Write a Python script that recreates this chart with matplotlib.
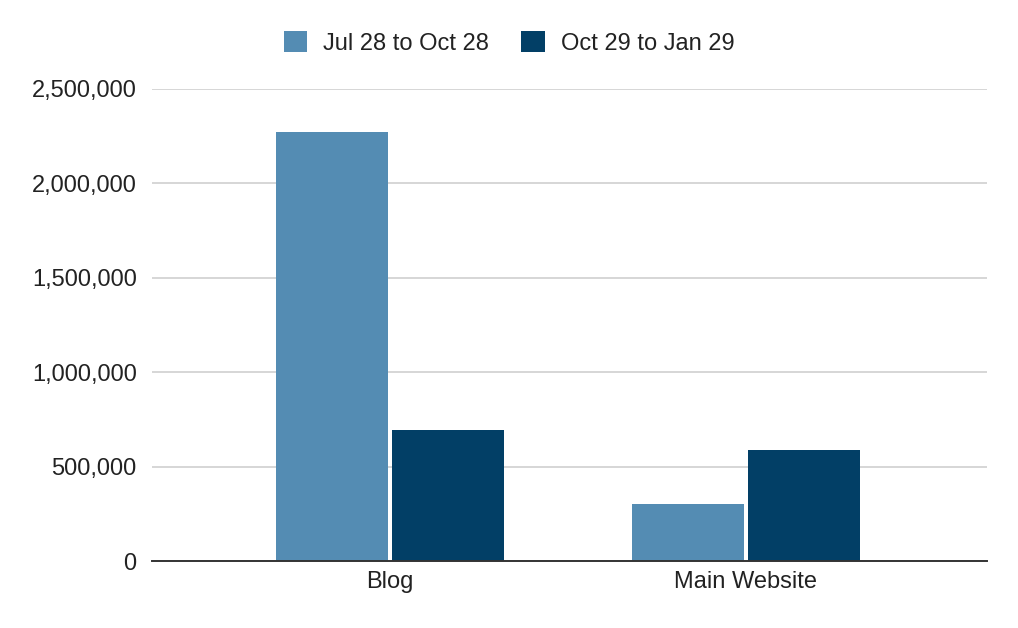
import matplotlib

matplotlib.use("Agg")
import matplotlib.pyplot as plt
import numpy as np
from matplotlib.ticker import FuncFormatter

categories = ["Blog", "Main Website"]
series_names = ["Jul 28 to Oct 28", "Oct 29 to Jan 29"]
jul_oct = [2272000, 302000]
oct_jan = [692000, 586000]
colors = ["#548cb3", "#023f66"]

plt.rcParams["font.family"] = ["Liberation Sans", "DejaVu Sans"]

fig = plt.figure(figsize=(10.18, 6.28), dpi=100)
ax = fig.add_axes([152 / 1018, 1 - 561 / 628, (987 - 152) / 1018, (561 - 89) / 628])

x = np.arange(len(categories))
width = 0.315
off = 0.163
ax.bar(x - off, jul_oct, width, color=colors[0], label=series_names[0], zorder=3)
ax.bar(x + off, oct_jan, width, color=colors[1], label=series_names[1], zorder=3)

ax.set_xlim(-0.668, 1.677)
ax.set_ylim(0, 2500000)
ax.set_yticks(np.arange(0, 2500001, 500000))
ax.yaxis.set_major_formatter(FuncFormatter(lambda v, p: f"{int(v):,}"))
ax.set_xticks(x)
ax.set_xticklabels(categories)
ax.tick_params(axis="both", length=0, labelsize=17, colors="#222222")
ax.tick_params(axis="y", pad=11)
ax.tick_params(axis="x", pad=7)

ax.grid(axis="y", color="#cccccc", linewidth=1.1, zorder=0)
for side in ["top", "right", "left"]:
    ax.spines[side].set_visible(False)
ax.spines["bottom"].set_color("#333333")
ax.spines["bottom"].set_linewidth(1.4)
ax.spines["bottom"].set_zorder(4)

fig.legend(
    loc="center", bbox_to_anchor=(0.5, 1 - 43 / 628), ncol=2, frameon=False,
    fontsize=17, handlelength=1.0, handleheight=1.0, handletextpad=0.67,
    columnspacing=1.375, labelcolor="#222222",
)

fig.savefig("out.png", dpi=100)
